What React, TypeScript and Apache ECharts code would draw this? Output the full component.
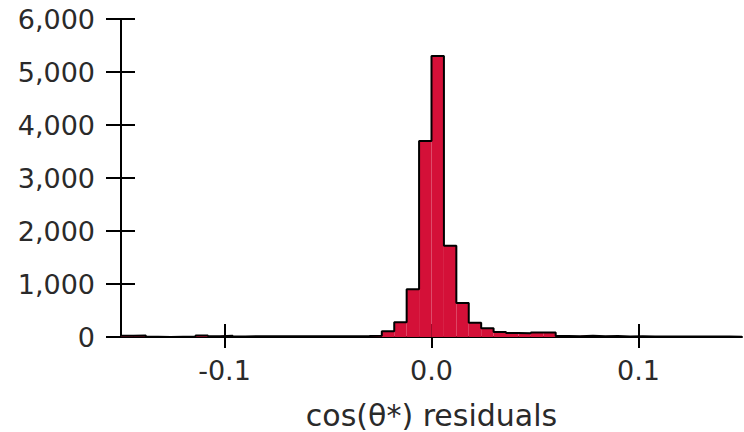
import React, { useEffect, useRef } from "react";
import * as echarts from "echarts";

// Histogram bins: 50 bins of width 0.006 covering [-0.15, 0.15)
const binStart = -0.15;
const binWidth = 0.006;
const counts = [
  25, 30, 5, 0, 5, 10, 30, 12, 25, 10,
  15, 15, 12, 15, 15, 12, 15, 15, 15, 18,
  25, 110, 280, 900, 3700, 5300, 1720, 640, 270, 165,
  95, 75, 70, 85, 85, 20, 15, 25, 15, 20,
  10, 15, 10, 10, 10, 10, 10, 10, 10, 5,
];
const xTicks = [-0.1, 0, 0.1];
const xMin = -0.15;
const xMax = 0.15;
const yMin = 0;
const yMax = 6000;
const yStep = 1000;
const xTitle = "cos(θ*) residuals";

export default function App() {
  const ref = useRef<HTMLDivElement>(null);
  useEffect(() => {
    const chart = echarts.init(ref.current!, null, { renderer: "svg" });
    const bars = counts.map((c, i) => [
      binStart + i * binWidth,
      binStart + (i + 1) * binWidth,
      c,
    ]);
    const outline: number[][] = [];
    bars.forEach(([x0, x1, c]) => {
      outline.push([x0, c]);
      outline.push([x1, c]);
    });
    const font = "DejaVu Sans";
    const textColor = "#2a2a2a";
    const axisLine = { show: true, onZero: false, lineStyle: { color: "#000", width: 2 } };
    const noLine = { show: false, onZero: false };
    chart.setOption({
      animation: false,
      backgroundColor: "#fff",
      grid: { left: 121, right: 2, top: 19, bottom: 95, outerBoundsMode: "none", containLabel: false },
      xAxis: [
        {
          type: "value",
          min: xMin,
          max: xMax,
          position: "bottom",
          axisLine,
          axisTick: { show: true, customValues: xTicks, length: 11, lineStyle: { color: "#000", width: 2 } },
          axisLabel: {
            customValues: xTicks,
            formatter: (v: number) => v.toFixed(1),
            fontSize: 27,
            fontFamily: font,
            color: textColor,
            margin: 20,
          },
          splitLine: { show: false },
          name: xTitle,
          nameLocation: "middle",
          nameGap: 63,
          nameTextStyle: { fontSize: 30, fontFamily: font, color: textColor },
        },
        {
          type: "value",
          min: xMin,
          max: xMax,
          position: "bottom",
          axisLine: noLine,
          axisTick: { show: true, inside: true, customValues: xTicks, length: 13, lineStyle: { color: "#000", width: 2 } },
          axisLabel: { show: false },
          splitLine: { show: false },
        },
      ],
      yAxis: [
        {
          type: "value",
          min: yMin,
          max: yMax,
          interval: yStep,
          position: "left",
          axisLine,
          axisTick: { show: true, length: 15, lineStyle: { color: "#000", width: 2 } },
          axisLabel: {
            formatter: (v: number) => v.toLocaleString("en-US"),
            fontSize: 27,
            fontFamily: font,
            color: textColor,
            margin: 26,
          },
          splitLine: { show: false },
        },
        {
          type: "value",
          min: yMin,
          max: yMax,
          interval: yStep,
          position: "left",
          axisLine: noLine,
          axisTick: { show: true, inside: true, length: 14, lineStyle: { color: "#000", width: 2 } },
          axisLabel: { show: false },
          splitLine: { show: false },
        },
      ],
      series: [
        {
          type: "custom",
          xAxisIndex: 0,
          yAxisIndex: 0,
          data: bars,
          encode: { x: [0, 1], y: 2 },
          renderItem: (_p: any, api: any) => {
            const p0 = api.coord([api.value(0), api.value(2)]);
            const p1 = api.coord([api.value(1), 0]);
            return {
              type: "rect",
              shape: { x: p0[0], y: p0[1], width: p1[0] - p0[0], height: p1[1] - p0[1] },
              style: { fill: "#d41038" },
            };
          },
          z: 2,
        },
        {
          type: "line",
          xAxisIndex: 0,
          yAxisIndex: 0,
          data: outline,
          symbol: "none",
          lineStyle: { color: "#000", width: 2 },
          z: 3,
        },
      ],
    });
    return () => chart.dispose();
  }, []);
  return (
    <div
      ref={ref}
      style={{ position: "fixed", left: 0, top: 0, width: 744, height: 432 }}
    />
  );
}
